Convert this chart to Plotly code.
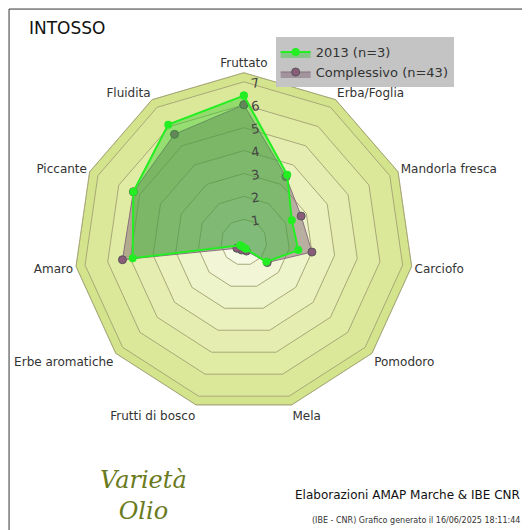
import plotly.graph_objects as go

categorie = ['Fruttato', 'Erba/Foglia', 'Mandorla fresca', 'Carciofo', 'Pomodoro', 'Mela',
             'Frutti di bosco', 'Erbe aromatiche', 'Amaro', 'Piccante', 'Fluidita']
val_2013 = [6.4, 3.5, 2.3, 2.4, 1.3, 0.3, 0.2, 0.2, 4.9, 5.3, 6.1]
val_compl = [6.0, 3.4, 2.75, 3.0, 1.35, 0.4, 0.35, 0.4, 5.35, 5.3, 5.6]
anelli = [7.4, 7, 6, 5, 4, 3, 2, 1]
colori_anelli = ['#d4e48c', '#dbe899', '#e0eba4', '#e5eeb0', '#eaf1bd', '#eef4c9', '#f2f6d6', '#f6f9e3']

fig = go.Figure()

# fasce di sfondo
for r, c in zip(anelli, colori_anelli):
    fig.add_trace(go.Scatterpolar(r=[r] * 12, theta=categorie + categorie[:1], mode='lines',
                                  fill='toself', fillcolor=c, line=dict(color='#a8a878', width=1),
                                  hoverinfo='skip', showlegend=False))

fig.add_trace(go.Scatterpolar(r=val_compl + val_compl[:1], theta=categorie + categorie[:1],
                              mode='lines+markers', name='Complessivo (n=43)', fill='toself',
                              fillcolor='rgba(120,90,110,0.45)', line=dict(color='#8a6f80', width=1),
                              marker=dict(color='#8a5c7a', size=8, symbol='circle',
                                          line=dict(color='#555', width=1))))
fig.add_trace(go.Scatterpolar(r=val_2013 + val_2013[:1], theta=categorie + categorie[:1],
                              mode='lines+markers', name='2013 (n=3)', fill='toself',
                              fillcolor='rgba(40,200,40,0.4)', line=dict(color='#22ee22', width=2),
                              marker=dict(color='#22ee22', size=8)))

fig.update_layout(
    width=530, height=530, paper_bgcolor='white',
    margin=dict(l=0, r=0, t=0, b=0),
    font=dict(family='DejaVu Sans', size=13, color='#333'),
    polar=dict(
        domain=dict(x=[0.125, 0.765], y=[0.238, 0.878]),
        bgcolor='rgba(0,0,0,0)', gridshape='linear',
        angularaxis=dict(direction='clockwise', rotation=90, showgrid=True,
                         gridcolor='#a8a878', linecolor='#a8a878', tickfont=dict(size=12)),
        radialaxis=dict(range=[0, 7.4], tickvals=[1, 2, 3, 4, 5, 6, 7], angle=80, tickangle=80,
                        showgrid=False, showline=False, tickfont=dict(size=13, color='#444')),
    ),
    legend=dict(x=0.505, y=0.945, bgcolor='#c4c4c4', font=dict(size=13), traceorder='reversed',
                itemwidth=30, tracegroupgap=0),
    annotations=[
        dict(text='INTOSSO', x=0.035, y=0.985, xref='paper', yref='paper', showarrow=False,
             xanchor='left', yanchor='top', font=dict(size=17, color='#111')),
        dict(text='Elaborazioni AMAP Marche & IBE CNR', x=0.97, y=0.065, xref='paper', yref='paper',
             showarrow=False, xanchor='right', font=dict(size=12, color='#111')),
        dict(text='(IBE - CNR) Grafico generato il 16/06/2025 18:11:44', x=0.97, y=0.02,
             xref='paper', yref='paper', showarrow=False, xanchor='right', font=dict(size=8)),
        dict(text='<i>Varietà<br>Olio</i>', x=0.17, y=0.02, xref='paper', yref='paper',
             showarrow=False, yanchor='bottom', font=dict(size=24, color='#6a7a20', family='DejaVu Serif')),
    ],
    shapes=[dict(type='rect', xref='paper', yref='paper', x0=0.002, y0=0.002, x1=0.998, y1=0.998,
                 line=dict(color='#333', width=1))],
)

fig.write_html('out.html')
